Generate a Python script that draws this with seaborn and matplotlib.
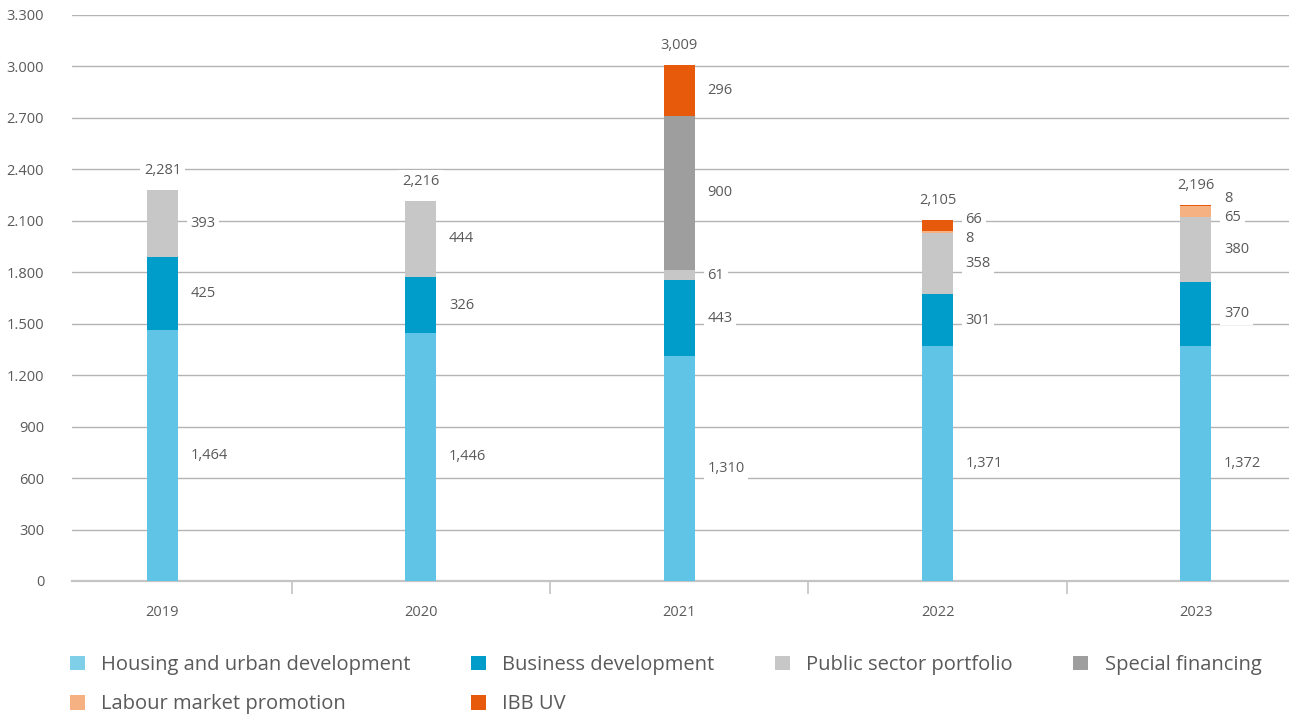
import matplotlib
matplotlib.use("Agg")
import matplotlib.pyplot as plt
from matplotlib.patches import Patch
from matplotlib.ticker import FixedLocator
import seaborn as sns
import pandas as pd
import numpy as np

years = ["2019", "2020", "2021", "2022", "2023"]
housing = [1464, 1446, 1310, 1371, 1372]
business = [425, 326, 443, 301, 370]
public = [393, 444, 61, 358, 380]
special = [0, 0, 900, 0, 0]
labour = [0, 0, 0, 8, 65]
ibb_uv = [0, 0, 296, 66, 8]
totals = [2281, 2216, 3009, 2105, 2196]

series_names = ["Housing and urban development", "Business development",
                "Public sector portfolio", "Special financing",
                "Labour market promotion", "IBB UV"]
series_vals = [housing, business, public, special, labour, ibb_uv]
colors = ["#5FC4E5", "#009DCB", "#C6C7C6", "#9D9E9D", "#F6B183", "#E85A0B"]
legend_colors = ["#7FCFE8", "#009DCB", "#C6C7C6", "#9D9E9D", "#F6B183", "#E85A0B"]

sns.set_theme(style="white")
plt.rcParams["font.family"] = ["Open Sans", "DejaVu Sans"]
text_col = "#5a5a5a"

fig = plt.figure(figsize=(12.89, 7.15), dpi=100)
ax = fig.add_axes([72 / 1289, 1 - 581 / 715, 1 - 72 / 1289, (581 - 15) / 715])

vals = np.array(series_vals, dtype=float)
cum = np.cumsum(vals, axis=0)
width = 0.12

# draw cumulative stacks from top layer down so that lower layers cover upper ones
for i in range(len(series_names) - 1, -1, -1):
    df = pd.DataFrame({"year": years, "v": cum[i]})
    sns.barplot(data=df, x="year", y="v", color=colors[i], width=width,
                saturation=1, linewidth=0, ax=ax, zorder=3)

ax.set_xlim(-0.35, 4.36)
ax.set_ylim(0, 3300)
ax.set_xlabel("")
ax.set_ylabel("")

yt = np.arange(0, 3301, 300)
ax.set_yticks(yt)
ax.set_yticklabels([f"{v:,}".replace(",", ".") for v in yt], color=text_col, fontsize=10.5)
ax.yaxis.grid(True, color="#b4b4b4", linewidth=1.0, zorder=0)
ax.set_axisbelow(True)
for s in ["top", "right", "left"]:
    ax.spines[s].set_visible(False)
ax.spines["bottom"].set_color("#c4c4c4")
ax.spines["bottom"].set_linewidth(1.6)
ax.tick_params(axis="y", length=0, pad=20)
ax.tick_params(axis="x", which="major", length=0, pad=17, labelsize=10.5, labelcolor=text_col)
ax.xaxis.set_minor_locator(FixedLocator([0.5, 1.5, 2.5, 3.5]))
ax.tick_params(axis="x", which="minor", length=9, width=1.2, color="#c4c4c4", bottom=True)
for lab in ax.get_xticklabels():
    lab.set_fontsize(10.5)
    lab.set_color(text_col)

# value labels
min_gap = 110
for j in range(len(years)):
    items = []
    for i in range(len(series_names)):
        v = vals[i, j]
        if v <= 0:
            continue
        centre = cum[i, j] - v / 2
        items.append([centre, int(v)])
    # de-overlap: push neighbours apart
    for _ in range(20):
        for k in range(len(items) - 1):
            a, b = items[k], items[k + 1]
            if b[0] - a[0] < min_gap:
                mid = (a[0] + b[0]) / 2
                a[0] = mid - min_gap / 2
                b[0] = mid + min_gap / 2
    for y, v in items:
        ax.annotate(f"{v:,}", xy=(j + width / 2, y), xytext=(9, 0),
                    textcoords="offset points", ha="left", va="center",
                    fontsize=10.5, color=text_col, zorder=5,
                    bbox=dict(boxstyle="square,pad=0.25", fc="white", ec="none"))
    ax.annotate(f"{totals[j]:,}", xy=(j, cum[-1, j]), xytext=(0, 14),
                textcoords="offset points", ha="center", va="center",
                fontsize=10.5, color=text_col, zorder=5,
                bbox=dict(boxstyle="square,pad=0.25", fc="white", ec="none"))

# legend laid out row-wise (matplotlib fills columns first)
order = [0, 4, 1, 5, 2, 3]
handles = [Patch(facecolor=legend_colors[k], edgecolor="none") for k in order]
labels = [series_names[k] for k in order]
leg = fig.legend(handles, labels, ncol=4, loc="upper left",
                 bbox_to_anchor=(62 / 1289, 1 - 647 / 715), frameon=False,
                 fontsize=14.5, handlelength=0.75, handleheight=0.75,
                 handletextpad=0.8, columnspacing=3.0, labelspacing=0.95,
                 borderaxespad=0)
for t in leg.get_texts():
    t.set_color(text_col)

fig.savefig("out.png", dpi=100)
